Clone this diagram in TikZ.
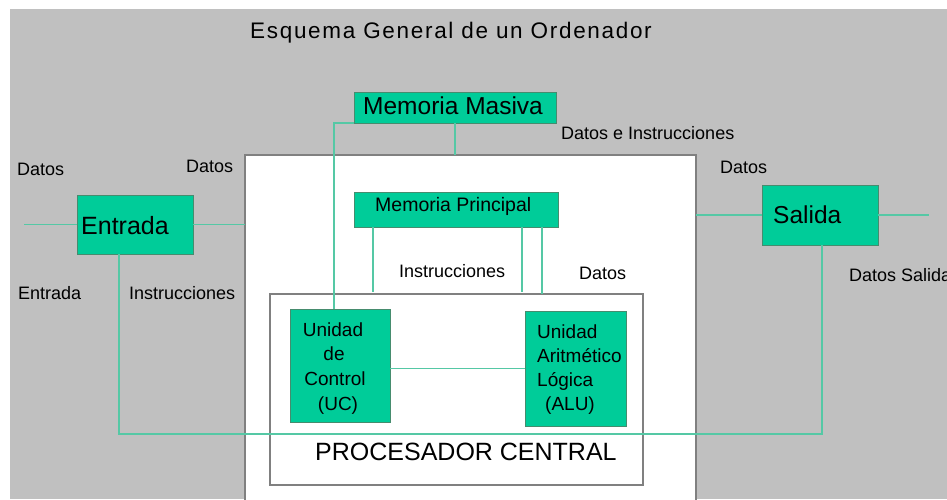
\documentclass[tikz,border=0pt]{standalone}
\usepackage{fontspec}
\setmainfont{Liberation Sans}
\newfontfamily\ttlfont[LetterSpace=7.5]{Liberation Sans}
\usetikzlibrary{calc}
\definecolor{bg}{RGB}{192,192,192}
\definecolor{boxfill}{RGB}{0,204,153}
\definecolor{boxline}{RGB}{70,140,110}
\definecolor{conncol}{RGB}{85,200,165}
\definecolor{framecol}{RGB}{128,128,128}
\begin{document}
\begin{tikzpicture}[x=1pt,y=-1pt,
  greenbox/.style={draw=boxline, line width=1pt, fill=boxfill, inner sep=0pt, outer sep=0pt},
  whitebox/.style={draw=framecol, line width=1.2pt, fill=white, inner sep=0pt, outer sep=0pt},
  conn/.style={draw=conncol, line width=1.6pt},
  lbl/.style={inner sep=0pt, anchor=base west, font=\fontsize{18}{18}\selectfont},
  big/.style={inner sep=0pt, anchor=base west, font=\fontsize{24.5}{24.5}\selectfont},
  mid/.style={inner sep=0pt, anchor=base west, font=\fontsize{19}{19}\selectfont}]
\useasboundingbox (0,0) rectangle (947,499);
\clip (0,0) rectangle (947,499);
\fill[bg] (10,9) rectangle (947,499);
% frames
\node[whitebox, minimum width=451pt, minimum height=360pt] (sys) at (470.5,335) {};
\node[whitebox, minimum width=373pt, minimum height=191pt] (proc) at (456.5,389.5) {};
% green boxes
\node[greenbox, minimum width=116pt, minimum height=59pt] (ent) at (135,224.5) {};
\node[greenbox, minimum width=116pt, minimum height=60pt] (sal) at (820,215) {};
\node[greenbox, minimum width=202pt, minimum height=31pt] (mm) at (455,107.5) {};
\node[greenbox, minimum width=204pt, minimum height=35pt] (mp) at (456,209.5) {};
\node[greenbox, minimum width=100pt, minimum height=113pt] (uc) at (340,365.5) {};
\node[greenbox, minimum width=101pt, minimum height=115pt] (alu) at (575.5,368.5) {};
% free ends
\coordinate (inL) at (24,224.5);
\coordinate (outR) at (929,215);
\coordinate (bus) at (470,434);
% connectors
\draw[conn] (inL) -- (ent.west);
\draw[conn] (ent.east) -- (ent.east -| sys.west);
\draw[conn] (sal.west -| sys.east) -- (sal.west);
\draw[conn] (sal.east) -- (outR);
\draw[conn] (mm.south) -- (mm.south |- sys.north);
\draw[conn] (mm.south west) -| ([xshift=-6pt]uc.north);
\draw[conn] ([xshift=19pt]mp.south west) -- ([xshift=19pt,yshift=2pt]mp.south west |- proc.north);
\draw[conn] ([xshift=-36pt]mp.south east) -- ([xshift=-36pt,yshift=2pt]mp.south east |- proc.north);
\draw[conn] ([xshift=-16pt]mp.south east) -- ([xshift=-16pt]mp.south east |- proc.north);
\draw[conn] (alu.west -| uc.east) -- (alu.west);
\draw[conn] ([xshift=-16pt]ent.south) |- (bus) -| ([xshift=2pt]sal.south);
% texts
\node[inner sep=0pt, anchor=base west, font=\ttlfont\fontsize{22.5}{22.5}\selectfont] (title) at (250,38) {Esquema General de un Ordenador};
\node[big] (tmm) at (363,114.5) {Memoria Masiva};
\node[big, font=\fontsize{25}{25}\selectfont] (tent) at (81,234) {Entrada};
\node[big] (tsal) at (773,223) {Salida};
\node[inner sep=0pt, anchor=base west, font=\fontsize{19.5}{19.5}\selectfont] (tmp) at (375,211.5) {Memoria Principal};
\node[inner sep=0pt, anchor=base west, font=\fontsize{25}{25}\selectfont] (tproc) at (315,460.5) {PROCESADOR CENTRAL};
\node[lbl] (l1) at (17,175) {Datos};
\node[lbl] (l2) at (186,172) {Datos};
\node[lbl] (l3) at (18,299) {Entrada};
\node[lbl] (l4) at (129,299) {Instrucciones};
\node[lbl] (l5) at (561,139) {Datos e Instrucciones};
\node[lbl] (l6) at (720,173) {Datos};
\node[lbl] (l7) at (849,281) {Datos Salida};
\node[lbl] (l8) at (399,277) {Instrucciones};
\node[lbl] (l9) at (579,279) {Datos};
% UC text
\node[mid, anchor=base] (uc1) at (333,336) {Unidad};
\node[mid, anchor=base] (uc2) at (334,360.5) {de};
\node[mid, anchor=base] (uc3) at (335,385) {Control};
\node[mid, anchor=base] (uc4) at (338,410) {(UC)};
% ALU text
\node[mid] (a1) at (537,338) {Unidad};
\node[mid] (a2) at (537,362) {Aritmético};
\node[mid] (a3) at (537,386) {Lógica};
\node[mid] (a4) at (545,410) {(ALU)};
\end{tikzpicture}
\end{document}
